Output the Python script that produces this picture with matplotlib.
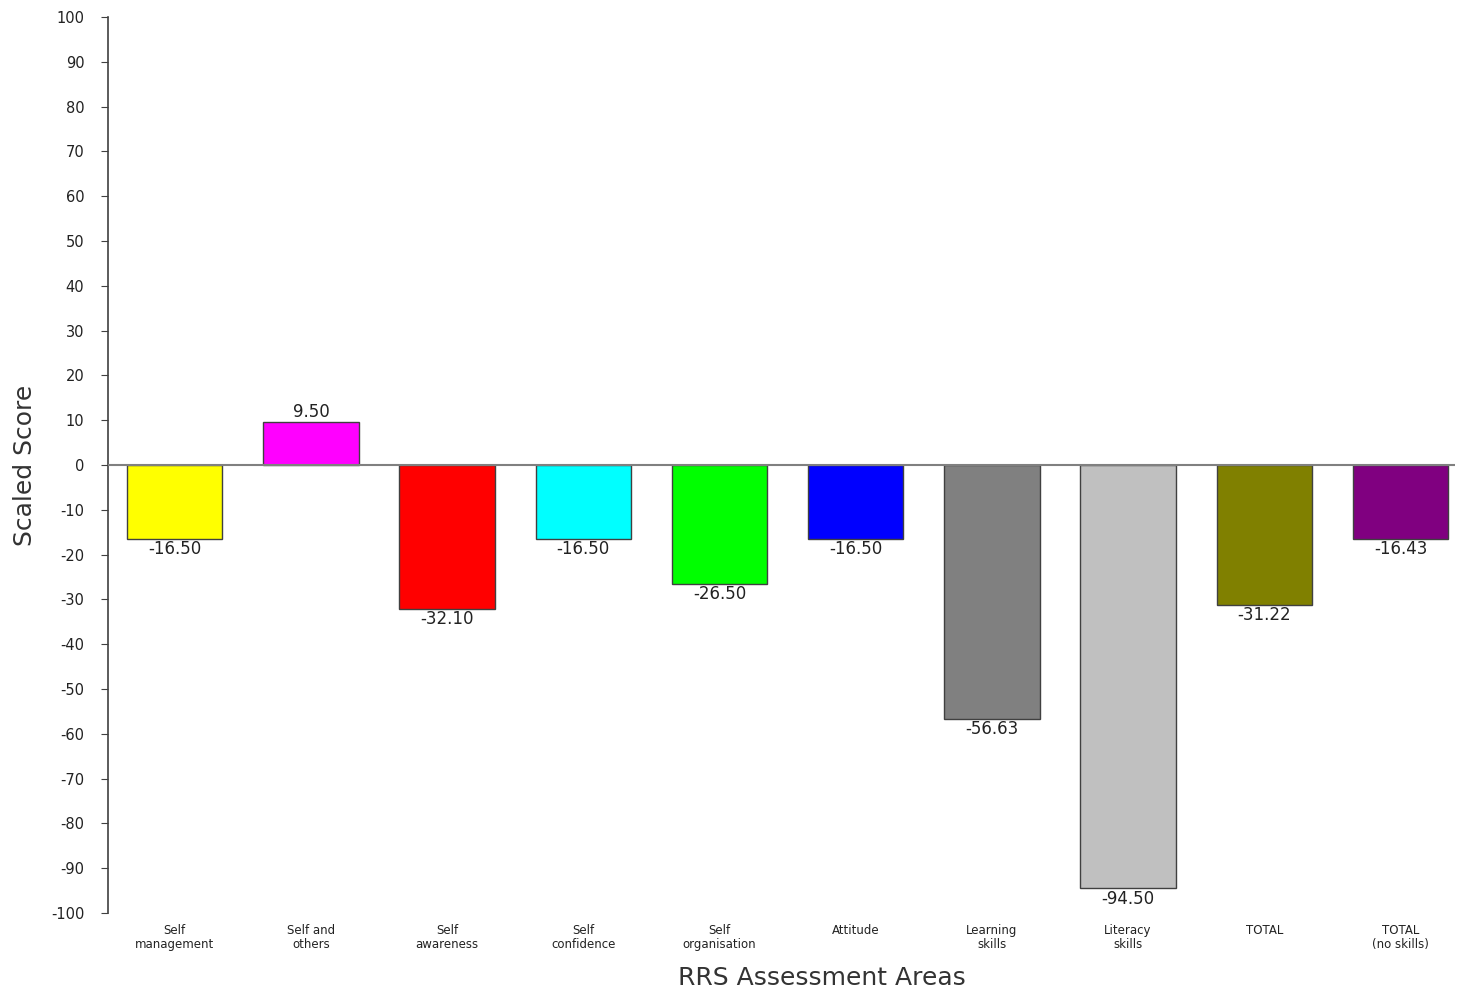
import matplotlib
matplotlib.use("Agg")
import matplotlib.pyplot as plt

plt.rcParams['font.family'] = ['DejaVu Sans']
plt.rcParams['axes.unicode_minus'] = False

# RRS scaled scores per assessment area
areas = [
    "Self\nmanagement", "Self and\nothers", "Self\nawareness", "Self\nconfidence",
    "Self\norganisation", "Attitude", "Learning\nskills", "Literacy\nskills",
    "TOTAL", "TOTAL\n(no skills)",
]
scores = [-16.50, 9.50, -32.10, -16.50, -26.50, -16.50, -56.63, -94.50, -31.22, -16.43]
colors = ["#FFFF00", "#FF00FF", "#FF0000", "#00FFFF", "#00FF00",
          "#0000FF", "#808080", "#C0C0C0", "#808000", "#800080"]

fig = plt.figure(figsize=(14.57, 9.91), dpi=100)
ax = fig.add_axes([0.0741, 0.0787, 0.9245, 0.9041])

x = list(range(len(areas)))
bars = ax.bar(x, scores, width=0.70, color=colors, edgecolor="#404040", linewidth=1.0, zorder=2)

# zero reference line
ax.axhline(0, color="#808080", linewidth=1.5, zorder=3)

for xi, v in zip(x, scores):
    if v >= 0:
        ax.text(xi, v + 0.3, f"{v:.2f}", ha="center", va="bottom", fontsize=12, color="#222222")
    else:
        ax.text(xi, v - 0.3, f"{v:.2f}", ha="center", va="top", fontsize=12, color="#222222")

ax.set_xlim(-0.49, 9.40)
ax.set_ylim(-100, 100)
ax.set_yticks(range(-100, 101, 10))
ax.tick_params(axis="y", labelsize=10.5, length=5, pad=12, color="#404040", labelcolor="#222222")
ax.set_xticks(x)
ax.set_xticklabels(areas, fontsize=8.5, linespacing=1.05, color="#222222")
ax.tick_params(axis="x", length=0, pad=8)

for s in ["top", "right", "bottom"]:
    ax.spines[s].set_visible(False)
ax.spines["left"].set_color("#404040")
ax.spines["left"].set_linewidth(1.2)

ax.set_ylabel("Scaled Score", fontsize=18, color="#333333", labelpad=10)
ax.set_xlabel("RRS Assessment Areas", fontsize=18, color="#333333")
ax.xaxis.label.set_va("center")
ax.xaxis.set_label_coords(0.53, -0.0725)

fig.savefig("out.png", dpi=100)
